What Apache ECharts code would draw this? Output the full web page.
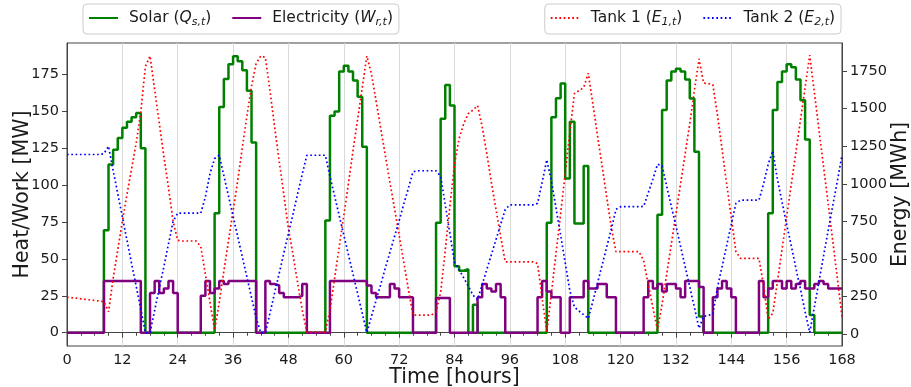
<!DOCTYPE html>
<html>
<head>
<meta charset="utf-8">
<script src="https://cdn.jsdelivr.net/npm/echarts@6/dist/echarts.min.js"></script>
<style>
html,body{margin:0;padding:0;background:#ffffff;}
#main{width:911px;height:387px;}
</style>
</head>
<body>
<div id="main"></div>
<script>
// hourly values, index = hour (0..168)
var solar=[
	0,0,0,0,0,0,0,0,69.5,114,124,132,
	139,143,146,149,125,0,0,0,0,0,0,0,
	0,0,0,0,0,0,0,0,81,153,172,182,
	187.5,184,178,164,129,0,0,0,0,0,0,0,
	0,0,0,0,0,0,0,0,76,147,150,177,
	181,177,171,160,126,0,0,0,0,0,0,0,
	0,0,0,0,0,0,0,0,74.5,145,168,154,
	45,42,43,0,19,0,0,0,0,0,0,0,
	0,0,0,0,0,0,0,0,74.5,146,159,169,
	104.5,143,74,74,113,0,0,0,0,0,0,0,
	0,0,0,0,0,0,0,0,80,151,171,177,
	179,177,171.6,158.7,122.6,11,0,0,0,0,0,0,
	0,0,0,0,0,0,0,0,81,151,170,177,
	182,180,171.6,157.6,131,12,0,0,0,0,0,0,
	0
];
var electricity=[
	0,0,0,0,0,0,0,0,35,35,35,35,
	35,35,35,35,0,0,27,35,27,30,35,27,
	0,0,0,0,0,25,35,27,30,35,33,35,
	35,35,35,35,35,0,0,35,33,32,27,24,
	24,24,25,33,0,0,0,0,0,35,35,35,
	35,35,35,35,35,32,27,24,24,24,33,30,
	24,24,24,0,0,0,0,0,23.5,23.5,23.5,0,
	0,0,0,0,0,24,33,30,28,33,24,0,
	0,0,0,0,0,0,24,35,28,24,24,0,
	0,24,24,24,35,30,30,33,33,24,24,0,
	0,0,0,0,0,24,35,30,33,28,33,33,
	30,24,35,35,35,31,0,0,24,30,35,30,
	24,0,0,0,0,0,35,24,30,35,35,30,
	35,30,33,35,30,30,33,35,33,30,30,30,
	30
];
var tank1=[
	246,243,240,236,232,228,225,221,217,150,370,560,
	750,930,1100,1270,1480,1780,1850,1626,1405,1182,974,750,
	625,620,620,620,620,583,398,213,28,210,420,620,
	820,1020,1240,1450,1650,1800,1850,1840,1620,1380,1150,930,
	700,530,340,160,15,15,15,15,15,160,370,580,
	790,1000,1220,1430,1640,1850,1730,1550,1370,1190,1010,835,
	660,480,300,128,128,128,128,128,150,280,560,850,
	1130,1300,1400,1467,1490,1520,1380,1200,1010,830,650,482,
	482,482,482,482,482,482,470,240,17,270,540,800,
	1070,1340,1600,1620,1640,1735,1530,1320,1120,910,710,549,
	549,549,549,549,549,490,330,180,29,200,400,600,
	800,1000,1200,1400,1620,1830,1670,1666,1660,1460,1230,1000,
	775,550,505,505,505,505,505,325,100,140,350,565,
	780,995,1210,1425,1640,1855,1610,1360,1115,870,620,370,
	117
];
var tank2=[
	1195,1195,1195,1195,1195,1195,1195,1195,1200,1250,1090,935,
	780,625,470,320,165,10,10,160,305,450,600,750,
	805,805,805,805,805,805,914,1068,1168,1190,1055,920,
	785,650,515,380,245,110,11,11,140,275,405,540,
	670,800,935,1065,1190,1190,1190,1190,1190,1050,920,790,
	660,530,400,270,140,11,120,225,330,440,545,650,
	755,865,970,1080,1087,1087,1087,1087,1087,1050,860,670,
	480,430,375,320,260,230,330,430,530,630,730,830,
	860,860,860,860,860,860,870,1010,1160,1020,840,660,
	475,290,180,155,130,105,220,340,460,580,700,830,
	848,848,848,848,848,850,940,1030,1130,1120,985,850,
	720,585,450,315,180,40,120,125,135,310,450,590,
	730,870,892,892,892,892,892,1000,1130,1220,1030,880,
	730,590,440,300,150,11,180,350,520,690,855,1020,
	1190
];
var powerTicks=[0,25,50,75,100,125,150,175];
var energyTicks=[0,250,500,750,1000,1250,1500,1750];

var fontName='DejaVu Sans';
var legendText={
	'Solar':'{sp|}Solar ({it|Q}{sub|s,t})',
	'Electricity':'{sp|}Electricity ({it|W}{sub|r,t})',
	'Tank 1':'{sp|}Tank 1 ({it|E}{sub|1,t})',
	'Tank 2':'{sp|}Tank 2 ({it|E}{sub|2,t})'
};

/**
 * 小时序列转成 [x,y]
 */
function toPairs(arr)
{
	var out=[];
	for(var i=0;i<arr.length;i++)
	{
		out.push([i,arr[i]]);
	}
	return out;
}

function legendBox(names,pos)
{
	var lg={
		data:names,
		top:4,
		orient:'horizontal',
		itemWidth:29,
		itemHeight:10,
		itemGap:20,
		padding:[6,6,6,5],
		borderColor:'#cccccc',
		borderWidth:1,
		borderRadius:4,
		backgroundColor:'#ffffff',
		itemStyle:{opacity:0},
		formatter:function(name){return legendText[name];},
		textStyle:{
			fontFamily:fontName,
			fontSize:15.5,
			color:'#1a1a1a',
			rich:{
				sp:{width:6},
				it:{fontFamily:fontName,fontSize:15.5,fontStyle:'italic',color:'#1a1a1a'},
				sub:{fontFamily:fontName,fontSize:11,fontStyle:'italic',color:'#1a1a1a',padding:[9,0,0,0]}
			}
		}
	};
	for(var k in pos){lg[k]=pos[k];}
	return lg;
}

function initChart(domId)
{
	var myChart=echarts.init(document.getElementById(domId));
	var axisColor='#444444';
	var option={
		animation:false,
		backgroundColor:'#ffffff',
		textStyle:{fontFamily:fontName},
		grid:{
			left:67,right:69,top:43,bottom:41,
			containLabel:false,
			outerBoundsMode:'none',
			show:true,borderColor:axisColor,borderWidth:1,backgroundColor:'rgba(0,0,0,0)'
		},
		legend:[
			legendBox(['Solar','Electricity'],{left:83}),
			legendBox(['Tank 1','Tank 2'],{right:70})
		],
		xAxis:{
			type:'value',
			min:0,
			max:168,
			interval:12,
			name:'Time [hours]',
			nameLocation:'middle',
			nameGap:21,
			nameMoveOverlap:false,
			nameTextStyle:{fontFamily:fontName,fontSize:20.5,color:'#1a1a1a'},
			axisLine:{show:true,lineStyle:{color:axisColor}},
			axisTick:{show:true,length:5,lineStyle:{color:axisColor}},
			minorTick:{show:true,splitNumber:4,length:3,lineStyle:{color:axisColor}},
			axisLabel:{fontFamily:fontName,fontSize:14.5,color:'#1a1a1a',margin:7},
			splitLine:{show:true,lineStyle:{color:'#d9d9d9',width:1}}
		},
		yAxis:[
			{
				type:'value',
				position:'left',
				min:-9,
				max:196.4,
				name:'Heat/Work [MW]',
				nameLocation:'middle',
				nameRotate:90,
				nameGap:34,
				nameMoveOverlap:false,
				nameTextStyle:{fontFamily:fontName,fontSize:20.5,color:'#1a1a1a'},
				axisLine:{show:true,lineStyle:{color:axisColor}},
				axisTick:{show:true,length:5,customValues:powerTicks,lineStyle:{color:axisColor}},
				axisLabel:{fontFamily:fontName,fontSize:14.5,color:'#1a1a1a',margin:8,customValues:powerTicks},
				splitLine:{show:false}
			},
			{
				type:'value',
				position:'right',
				min:-77.7,
				max:1936,
				name:'Energy [MWh]',
				nameLocation:'middle',
				nameRotate:90,
				nameGap:48,
				nameMoveOverlap:false,
				nameTextStyle:{fontFamily:fontName,fontSize:20.5,color:'#1a1a1a'},
				axisLine:{show:true,lineStyle:{color:axisColor}},
				axisTick:{show:true,length:5,customValues:energyTicks,lineStyle:{color:axisColor}},
				axisLabel:{
					fontFamily:fontName,fontSize:14.5,color:'#1a1a1a',margin:8,customValues:energyTicks,
					formatter:function(v){return String(v);}
				},
				splitLine:{show:false}
			}
		],
		series:[
			{
				name:'Solar',
				type:'line',
				step:'end',
				yAxisIndex:0,
				symbol:'none',
				data:toPairs(solar),
				lineStyle:{color:'#008000',width:2.5},
				itemStyle:{color:'#008000'},
				z:2
			},
			{
				name:'Electricity',
				type:'line',
				step:'end',
				yAxisIndex:0,
				symbol:'none',
				data:toPairs(electricity),
				lineStyle:{color:'#800080',width:2.5},
				itemStyle:{color:'#800080'},
				z:3
			},
			{
				name:'Tank 1',
				type:'line',
				yAxisIndex:1,
				symbol:'none',
				data:toPairs(tank1),
				lineStyle:{color:'#ff0000',width:1.7,type:[1.7,2.6]},
				itemStyle:{color:'#ff0000'},
				z:4
			},
			{
				name:'Tank 2',
				type:'line',
				yAxisIndex:1,
				symbol:'none',
				data:toPairs(tank2),
				lineStyle:{color:'#0000ff',width:1.7,type:[1.7,2.6]},
				itemStyle:{color:'#0000ff'},
				z:4
			}
		]
	};
	myChart.setOption(option);
}

initChart('main');
</script>
</body>
</html>
